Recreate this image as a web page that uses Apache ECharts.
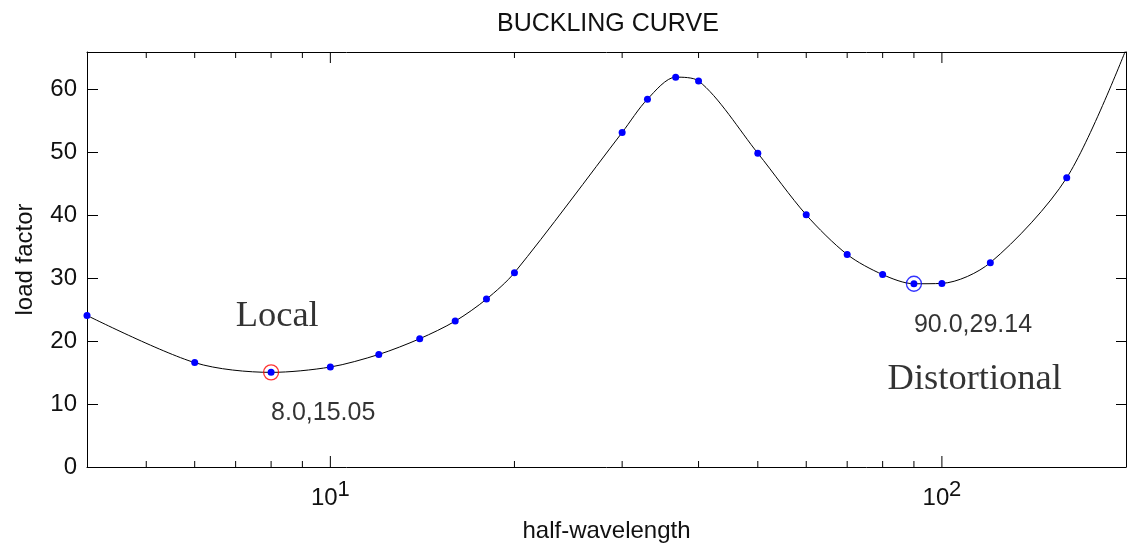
<!DOCTYPE html>
<html>
<head>
<meta charset="utf-8">
<title>Buckling curve</title>
<script src="https://cdn.jsdelivr.net/npm/echarts@6/dist/echarts.min.js"></script>
<style>
  html, body { margin: 0; padding: 0; background: #fff; }
  #chart { width: 1129px; height: 549px; }
</style>
</head>
<body>
<div id="chart"></div>
<script>
// curve points
const halfWavelength = [4, 6, 8, 10, 12, 14, 16, 18, 20, 30, 33, 36.7, 40, 50, 60, 70, 80, 90, 100, 120, 160, 200]
const loadFactor = [24.1, 16.6, 15.05, 15.9, 17.9, 20.4, 23.2, 26.7, 30.9, 53.2, 58.5, 62.0, 61.4, 49.9, 40.1, 33.8, 30.6, 29.14, 29.2, 32.5, 46.0, 66.4]

// the two minima that are circled
const localMin = [8.0, 15.05]
const distMin = [90.0, 29.14]

// log axis ticks (minor + decades)
const xTicks = [5, 6, 7, 8, 9, 10, 20, 30, 40, 50, 60, 70, 80, 90, 100]
const xDecades = [10, 100]
const yTicks = [0, 10, 20, 30, 40, 50, 60]

// text notes: [x, y, text]
const notes = [
  [7, 24, 'Local'],
  [81.5, 14, 'Distortional'],
  [8, 8.6, '8.0,15.05'],
  [90, 22.6, '90.0,29.14']
]

const X_MIN = 4
const X_MAX = 200
const Y_MAX = 66
const SANS = 'Liberation Sans, Arial, sans-serif'
const SERIF = 'Liberation Serif, Times New Roman, serif'

let myChart = echarts.init(document.getElementById('chart'))

let points = halfWavelength.map((x, i) => [x, loadFactor[i]])
let tickData = xTicks.map(v => [v, xDecades.indexOf(v) >= 0 ? 1 : 0])

myChart.setOption({
  animation: false,
  title: {
    text: 'BUCKLING CURVE',
    left: 492,
    top: 7,
    textStyle: { fontFamily: SANS, fontSize: 25, fontWeight: 'normal', color: '#111' }
  },
  grid: { left: 87, right: -2, top: 52, bottom: 82 },
  xAxis: [
    {
      type: 'log',
      logBase: 10,
      min: X_MIN,
      max: X_MAX,
      name: 'half-wavelength',
      nameLocation: 'middle',
      nameGap: 52,
      nameTextStyle: { fontFamily: SANS, fontSize: 24, color: '#111' },
      axisLine: { show: true, onZero: false, lineStyle: { color: '#000', width: 1 } },
      axisTick: { show: false },
      splitLine: { show: false },
      axisLabel: {
        margin: 22,
        formatter: function (v) {
          let e = Math.log10(v)
          if (Math.abs(e - Math.round(e)) < 1e-6) {
            // exponent on a thin first line, pushed to the right end
            return '{s|' + Math.round(e) + '}\n{b|10}{g|}'
          }
          return ''
        },
        rich: {
          b: { fontFamily: SANS, fontSize: 24, lineHeight: 17, color: '#111' },
          s: { fontFamily: SANS, fontSize: 22, lineHeight: 1, color: '#111', align: 'right' },
          g: { width: 12 }
        }
      }
    },
    {
      type: 'log',
      logBase: 10,
      min: X_MIN,
      max: X_MAX,
      position: 'top',
      axisLine: { show: true, onZero: false, lineStyle: { color: '#000', width: 1 } },
      axisTick: { show: false },
      axisLabel: { show: false },
      splitLine: { show: false }
    }
  ],
  yAxis: [
    {
      type: 'value',
      min: 0,
      max: Y_MAX,
      interval: 10,
      name: 'load factor',
      nameLocation: 'middle',
      nameGap: 50,
      nameTextStyle: { fontFamily: SANS, fontSize: 24, color: '#111' },
      axisLine: { show: true, lineStyle: { color: '#000', width: 1 } },
      axisTick: { show: true, inside: true, length: 11, lineStyle: { color: '#000' } },
      splitLine: { show: false },
      axisLabel: {
        margin: 10,
        showMaxLabel: false,
        fontFamily: SANS,
        fontSize: 24,
        color: '#111',
        formatter: v => (yTicks.indexOf(v) >= 0 ? String(v) : '')
      }
    },
    {
      type: 'value',
      min: 0,
      max: Y_MAX,
      interval: 10,
      position: 'right',
      axisLine: { show: true, lineStyle: { color: '#000', width: 1 } },
      axisTick: { show: true, inside: true, length: 10, lineStyle: { color: '#000' } },
      axisLabel: { show: false },
      splitLine: { show: false }
    }
  ],
  series: [
    {
      // log ticks on bottom and top edge of the box
      type: 'custom',
      silent: true,
      clip: false,
      data: tickData,
      renderItem: function (params, api) {
        let v = api.value(0)
        let len = api.value(1) ? 11 : 6
        let b = api.coord([v, 0])
        let t = api.coord([v, Y_MAX])
        let style = { stroke: '#000', lineWidth: 1 }
        return {
          type: 'group',
          children: [
            { type: 'line', shape: { x1: b[0], y1: b[1], x2: b[0], y2: b[1] - len }, style: style },
            { type: 'line', shape: { x1: t[0], y1: t[1], x2: t[0], y2: t[1] + len }, style: style }
          ]
        }
      }
    },
    {
      name: 'buckling',
      type: 'line',
      data: points,
      smooth: 0.3,
      clip: true,
      symbol: 'circle',
      symbolSize: 7,
      showAllSymbol: true,
      lineStyle: { color: '#000', width: 1 },
      itemStyle: { color: '#0000ff' },
      z: 3
    },
    {
      name: 'local min',
      type: 'scatter',
      data: [localMin],
      symbol: 'circle',
      symbolSize: 15,
      itemStyle: { color: 'rgba(0,0,0,0)', borderColor: '#ff0000', borderWidth: 1.3 },
      z: 4
    },
    {
      name: 'distortional min',
      type: 'scatter',
      data: [distMin],
      symbol: 'circle',
      symbolSize: 15,
      itemStyle: { color: 'rgba(0,0,0,0)', borderColor: '#0000ff', borderWidth: 1.3 },
      z: 4
    },
    {
      name: 'notes',
      type: 'scatter',
      silent: true,
      symbolSize: 0,
      data: notes.map(n => ({
        value: [n[0], n[1]],
        label: {
          show: true,
          position: 'right',
          distance: 0,
          formatter: n[2],
          color: '#000',
          fontFamily: /^[A-Za-z]/.test(n[2]) ? SERIF : SANS,
          fontSize: /^[A-Za-z]/.test(n[2]) ? 36.5 : 25
        }
      })),
      z: 5
    }
  ]
})
</script>
</body>
</html>
